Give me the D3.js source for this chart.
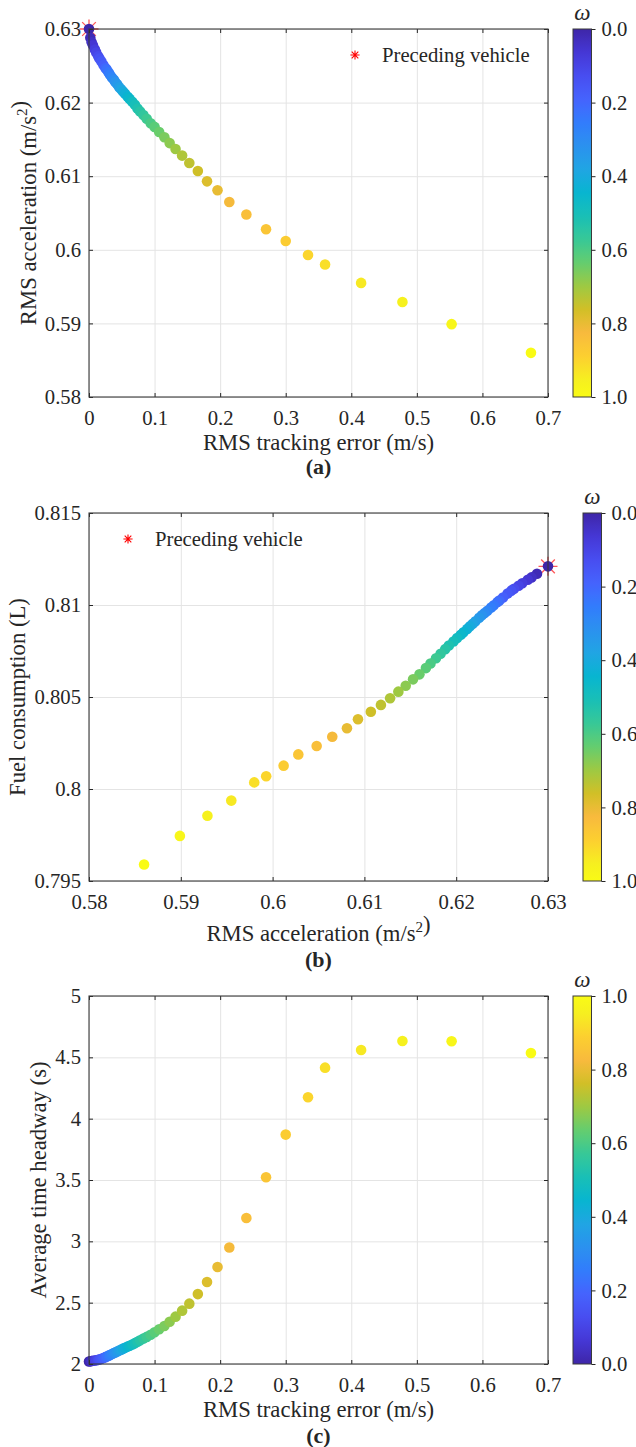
<!DOCTYPE html>
<html>
<head>
<meta charset="utf-8">
<script src="https://cdn.jsdelivr.net/npm/d3@7"></script>
<style>
body { margin: 0; background: #fff; }
text { font-family: "Liberation Serif", "Times New Roman", serif; fill: #262626; }
.tick text { font-family: "Liberation Serif", "Times New Roman", serif; font-size: 20.7px; }
.grid line { stroke: #e4e4e4; stroke-width: 1; }
</style>
</head>
<body>
<svg id="chart"></svg>
<script>
// weight omega for every solution on the front
const omega = [0, 0.02, 0.04, 0.06, 0.08, 0.1, 0.12, 0.14, 0.16, 0.18, 0.2, 0.22, 0.24, 0.26, 0.28, 0.3, 0.32, 0.34,
    0.36, 0.38, 0.4, 0.42, 0.44, 0.46, 0.48, 0.5, 0.52, 0.54, 0.56, 0.58, 0.6, 0.62, 0.64, 0.66, 0.68, 0.7,
    0.72, 0.74, 0.76, 0.78, 0.8, 0.82, 0.84, 0.86, 0.88, 0.9, 0.92, 0.94, 0.96, 0.98, 1];
// RMS tracking error (m/s)
const trackError = [0.000, 0.002, 0.004, 0.006, 0.009, 0.011, 0.014, 0.016, 0.019, 0.022, 0.025, 0.027, 0.030,
    0.032, 0.035, 0.038, 0.040, 0.043, 0.046, 0.049, 0.052, 0.055, 0.059, 0.062, 0.066, 0.070, 0.074, 0.078,
    0.083, 0.088, 0.094, 0.100, 0.107, 0.115, 0.123, 0.132, 0.142, 0.153, 0.166, 0.180, 0.196, 0.214, 0.240,
    0.270, 0.300, 0.334, 0.360, 0.415, 0.478, 0.553, 0.674];
// RMS acceleration (m/s^2)
const rmsAccel = [0.6300, 0.6288, 0.6282, 0.6278, 0.6272, 0.6268, 0.6263, 0.6260, 0.6256, 0.6251, 0.6247, 0.6245,
    0.6241, 0.6238, 0.6234, 0.6231, 0.6228, 0.6225, 0.6221, 0.6218, 0.6215, 0.6212, 0.6208, 0.6205, 0.6201,
    0.6197, 0.6192, 0.6188, 0.6183, 0.6178, 0.6172, 0.6167, 0.6160, 0.6153, 0.6145, 0.6137, 0.6128, 0.6118,
    0.6107, 0.6093, 0.6081, 0.6065, 0.6048, 0.6028, 0.6012, 0.5993, 0.5980, 0.5955, 0.5929, 0.5899, 0.5860];
// fuel consumption (L)
const fuelUse = [0.81210, 0.81170, 0.81150, 0.81137, 0.81118, 0.81105, 0.81088, 0.81078, 0.81062, 0.81041,
    0.81024, 0.81016, 0.80999, 0.80986, 0.80969, 0.80956, 0.80944, 0.80931, 0.80912, 0.80898, 0.80884, 0.80870,
    0.80852, 0.80838, 0.80820, 0.80802, 0.80780, 0.80760, 0.80735, 0.80711, 0.80682, 0.80657, 0.80623, 0.80596,
    0.80561, 0.80529, 0.80493, 0.80457, 0.80420, 0.80379, 0.80330, 0.80284, 0.80234, 0.80188, 0.80127, 0.80069,
    0.80036, 0.79937, 0.79855, 0.79745, 0.79590];
// average time headway (s)
const headway = [2.020, 2.022, 2.024, 2.026, 2.029, 2.031, 2.034, 2.037, 2.043, 2.049, 2.056, 2.061, 2.068, 2.073,
    2.081, 2.089, 2.094, 2.102, 2.110, 2.117, 2.125, 2.132, 2.142, 2.149, 2.159, 2.170, 2.181, 2.193, 2.207,
    2.221, 2.239, 2.259, 2.283, 2.310, 2.344, 2.386, 2.435, 2.492, 2.570, 2.669, 2.791, 2.950, 3.190, 3.522,
    3.870, 4.174, 4.416, 4.560, 4.633, 4.631, 4.535];

// preceding vehicle: tracking error, acceleration, fuel
const precedingErr = [0];
const precedingAcc = [0.630];
const precedingFuel = [0.8121];

const errTicks = [0, 0.1, 0.2, 0.3, 0.4, 0.5, 0.6, 0.7];
const accTicks = [0.58, 0.59, 0.6, 0.61, 0.62, 0.63];
const fuelTicks = [0.795, 0.8, 0.805, 0.81, 0.815];
const headwayTicks = [2, 2.5, 3, 3.5, 4, 4.5, 5];
const omegaTicks = [0, 0.2, 0.4, 0.6, 0.8, 1];

// parula colormap key colours (position, r, g, b)
const parulaStops = [
    [0, 0.2422, 0.1504, 0.6603], [4, 0.2706, 0.2147, 0.8364], [8, 0.2813, 0.3006, 0.9414],
    [12, 0.2699, 0.3892, 0.9906], [16, 0.1963, 0.4847, 0.9892], [20, 0.1687, 0.5703, 0.9359],
    [24, 0.1248, 0.6459, 0.8883], [28, 0.0297, 0.7082, 0.8163], [32, 0.0964, 0.7500, 0.7120],
    [36, 0.2161, 0.7843, 0.5923], [40, 0.3909, 0.8029, 0.4354], [44, 0.6174, 0.7876, 0.2612],
    [48, 0.8203, 0.7498, 0.1535], [52, 0.9728, 0.7298, 0.2394], [56, 0.9892, 0.8136, 0.1885],
    [60, 0.9628, 0.9373, 0.1265], [63, 0.9769, 0.9839, 0.0805]
];
const parula = d3.scaleLinear()
    .domain(parulaStops.map(s => s[0] / 63))
    .range(parulaStops.map(s => d3.rgb(s[1] * 255, s[2] * 255, s[3] * 255).toString()))
    .interpolate(d3.interpolateRgb)
    .clamp(true);

const L = 89, W = 459, H = 368;
const svg = d3.select("#chart").attr("width", 636).attr("height", 1447);
const defs = svg.append("defs");

function starPath(r) {
    const d = r * 0.72;
    return `M${-r},0H${r}M0,${-r}V${r}M${-d},${-d}L${d},${d}M${-d},${d}L${d},${-d}`;
}

// label parts: plain strings, or {sup: "2"} for a superscript
function addLabel(sel, parts) {
    parts.forEach(p => {
        if (typeof p === "object") {
            sel.append("tspan").attr("dy", -9).attr("font-size", "15px").text(p.sup);
            sel.append("tspan").attr("dy", 9).text("");
        } else {
            sel.append("tspan").text(p);
        }
    });
}

function panel(cfg) {
    const g = svg.append("g").attr("transform", `translate(${L},${cfg.top})`);
    const x = d3.scaleLinear().domain(cfg.xDomain).range([0, W]);
    const y = d3.scaleLinear().domain(cfg.yDomain).range([H, 0]);

    // grid
    g.append("g").attr("class", "grid").attr("transform", `translate(0,${H})`)
        .call(d3.axisBottom(x).tickValues(cfg.xTicks).tickSize(-H).tickFormat(""))
        .call(a => a.select(".domain").remove());
    g.append("g").attr("class", "grid")
        .call(d3.axisLeft(y).tickValues(cfg.yTicks).tickSize(-W).tickFormat(""))
        .call(a => a.select(".domain").remove());

    // preceding vehicle marker
    if (cfg.star) {
        g.append("path")
            .attr("d", starPath(9.5))
            .attr("transform", `translate(${x(cfg.star[0])},${y(cfg.star[1])})`)
            .attr("stroke", "#ff2020").attr("stroke-opacity", 0.75)
            .attr("stroke-width", 1.3).attr("fill", "none");
    }

    // pareto points
    g.selectAll("circle.pt")
        .data(d3.range(omega.length))
        .join("circle")
        .attr("class", "pt")
        .attr("cx", i => x(cfg.xs[i]))
        .attr("cy", i => y(cfg.ys[i]))
        .attr("r", 5.3)
        .attr("fill", i => parula(omega[i]));

    // axes
    const fmt = v => String(+v.toFixed(3));
    g.append("g").attr("transform", `translate(0,${H})`).attr("color", "#262626")
        .call(d3.axisBottom(x).tickValues(cfg.xTicks).tickFormat(fmt).tickSize(-4).tickPadding(13))
        .call(a => a.select(".domain").remove())
        .attr("font-size", null).attr("font-family", null);
    g.append("g").attr("color", "#262626")
        .call(d3.axisTop(x).tickValues(cfg.xTicks).tickFormat("").tickSize(-4))
        .call(a => a.select(".domain").remove());
    g.append("g").attr("color", "#262626")
        .call(d3.axisLeft(y).tickValues(cfg.yTicks).tickFormat(fmt).tickSize(-4).tickPadding(8))
        .call(a => a.select(".domain").remove())
        .attr("font-size", null).attr("font-family", null);
    g.append("g").attr("transform", `translate(${W},0)`).attr("color", "#262626")
        .call(d3.axisRight(y).tickValues(cfg.yTicks).tickFormat("").tickSize(-4))
        .call(a => a.select(".domain").remove());
    g.append("rect").attr("width", W).attr("height", H)
        .attr("fill", "none").attr("stroke", "#3a3a3a").attr("stroke-width", 1.1);

    // axis labels and caption
    addLabel(svg.append("text").attr("x", L + W / 2).attr("y", cfg.xLabelY)
        .attr("text-anchor", "middle").attr("font-size", "22.7px"), cfg.xLabel);
    addLabel(svg.append("text")
        .attr("transform", `translate(${cfg.yLabelX},${cfg.top + H / 2}) rotate(-90)`)
        .attr("text-anchor", "middle").attr("font-size", "22.7px"), cfg.yLabel);
    svg.append("text").attr("x", L + W / 2).attr("y", cfg.titleY)
        .attr("text-anchor", "middle").attr("font-size", "22px").attr("font-weight", "bold")
        .text(cfg.title);

    // colorbar
    const cbW = 18.5;
    const gradId = "grad" + cfg.title.replace(/\W/g, "");
    const grad = defs.append("linearGradient").attr("id", gradId)
        .attr("x1", 0).attr("y1", 0).attr("x2", 0).attr("y2", 1);
    d3.range(0, 1.0001, 1 / 63).forEach(o => {
        grad.append("stop")
            .attr("offset", o)
            .attr("stop-color", parula(cfg.cbReverse ? o : 1 - o));
    });
    const cb = svg.append("g").attr("transform", `translate(${cfg.cbLeft},${cfg.top})`);
    cb.append("rect").attr("width", cbW).attr("height", H)
        .attr("fill", `url(#${gradId})`).attr("stroke", "#3a3a3a").attr("stroke-width", 1);
    const cbScale = d3.scaleLinear().domain([0, 1]).range(cfg.cbReverse ? [0, H] : [H, 0]);
    cb.append("g").attr("transform", `translate(${cbW},0)`).attr("color", "#262626")
        .call(d3.axisRight(cbScale).tickValues(omegaTicks).tickFormat(d3.format(".1f")).tickSize(4).tickPadding(6))
        .call(a => a.select(".domain").remove())
        .attr("font-size", null).attr("font-family", null);
    svg.append("text").attr("x", cfg.cbLeft + cbW / 2).attr("y", cfg.top - 9)
        .attr("text-anchor", "middle").attr("font-size", "23px").attr("font-style", "italic")
        .text("ω");

    // legend
    if (cfg.legend) {
        svg.append("path").attr("d", starPath(4.6))
            .attr("transform", `translate(${cfg.legend[0]},${cfg.legend[1]})`)
            .attr("stroke", "#ff0000").attr("stroke-width", 1.1).attr("fill", "none");
        svg.append("text").attr("x", cfg.legend[0] + 27).attr("y", cfg.legend[1] + 7)
            .attr("font-size", "20.7px").text("Preceding vehicle");
    }
}

panel({
    top: 29, xs: trackError, ys: rmsAccel,
    xDomain: [0, 0.7], yDomain: [0.58, 0.63], xTicks: errTicks, yTicks: accTicks,
    xLabel: ["RMS tracking error (m/s)"], xLabelY: 450,
    yLabel: ["RMS acceleration (m/s", { sup: "2" }, ")"], yLabelX: 36,
    title: "(a)", titleY: 474,
    cbLeft: 573, cbReverse: true,
    star: [precedingErr[0], precedingAcc[0]], legend: [355, 55]
});

panel({
    top: 513, xs: rmsAccel, ys: fuelUse,
    xDomain: [0.58, 0.63], yDomain: [0.795, 0.815], xTicks: accTicks, yTicks: fuelTicks,
    xLabel: ["RMS acceleration (m/s", { sup: "2" }, ")"], xLabelY: 941,
    yLabel: ["Fuel consumption (L)"], yLabelX: 25,
    title: "(b)", titleY: 967,
    cbLeft: 583, cbReverse: true,
    star: [precedingAcc[0], precedingFuel[0]], legend: [128, 539]
});

panel({
    top: 996, xs: trackError, ys: headway,
    xDomain: [0, 0.7], yDomain: [2, 5], xTicks: errTicks, yTicks: headwayTicks,
    xLabel: ["RMS tracking error (m/s)"], xLabelY: 1417,
    yLabel: ["Average time headway (s)"], yLabelX: 46,
    title: "(c)", titleY: 1443,
    cbLeft: 573, cbReverse: false
});
</script>
</body>
</html>
